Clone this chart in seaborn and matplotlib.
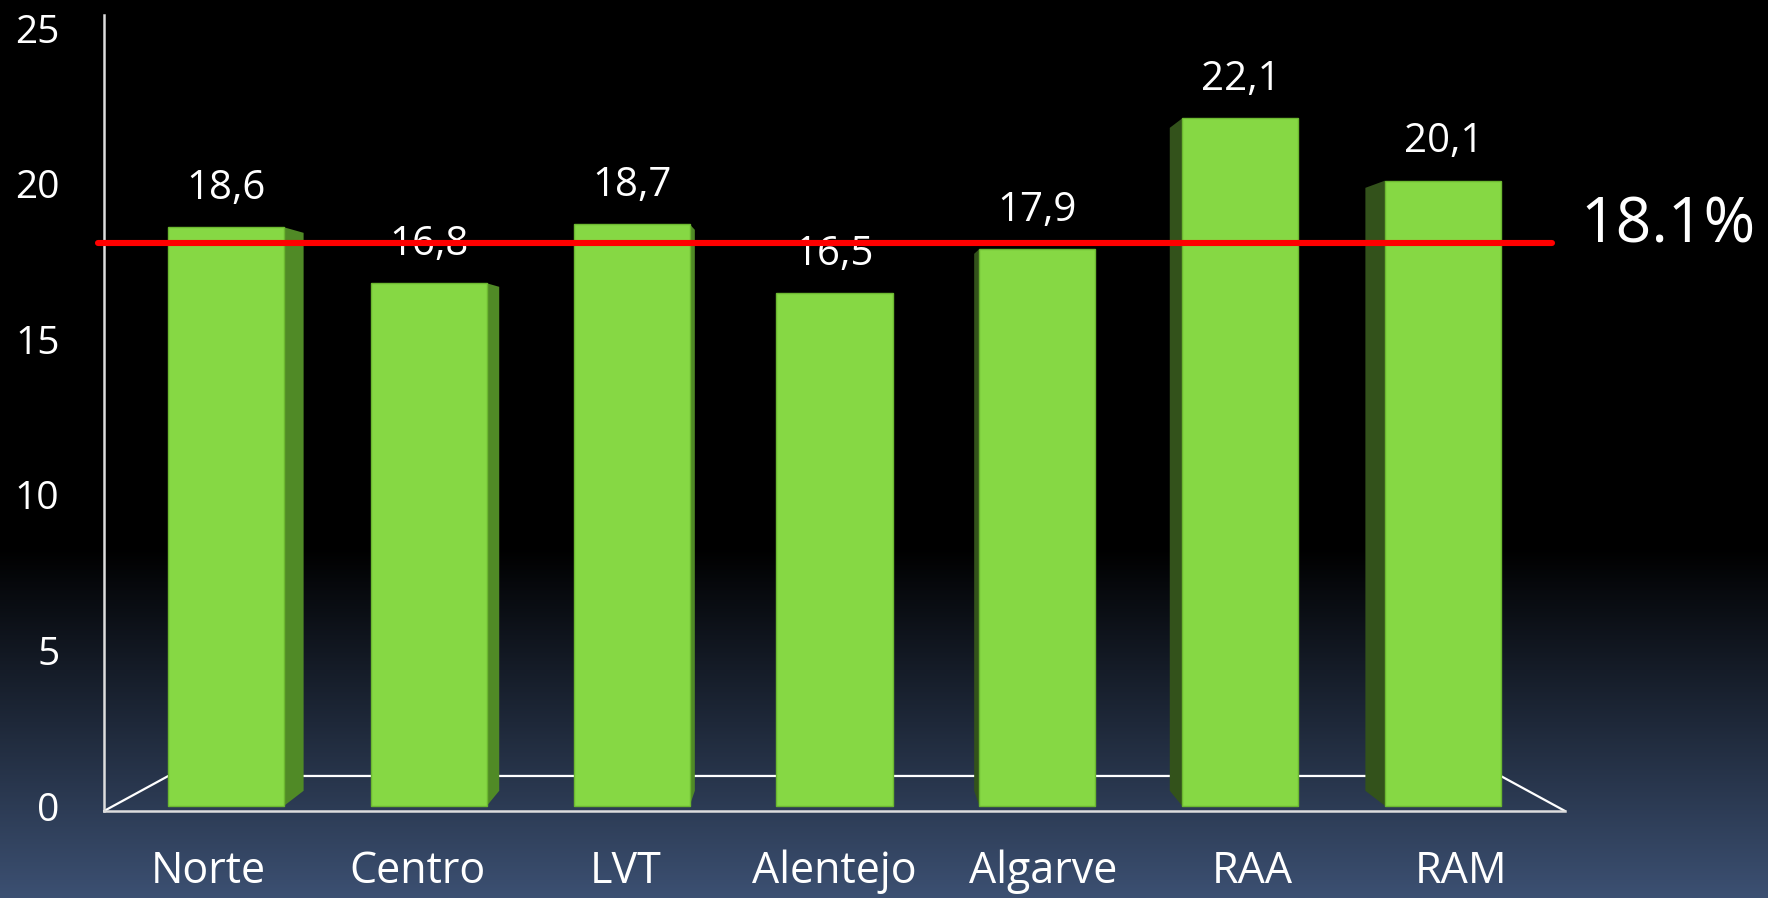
import numpy as np
import matplotlib
matplotlib.use("Agg")
import matplotlib.pyplot as plt
import seaborn as sns
from matplotlib.patches import Polygon

regions = ["Norte", "Centro", "LVT", "Alentejo", "Algarve", "RAA", "RAM"]
values = [18.6, 16.8, 18.7, 16.5, 17.9, 22.1, 20.1]
average = 18.1
yticks = [0, 5, 10, 15, 20, 25]

sns.set_theme(style="white")
plt.rcParams["font.family"] = ["Open Sans", "DejaVu Sans"]

W, H = 1768, 898
fig = plt.figure(figsize=(W / 100, H / 100), dpi=100, facecolor="black")

# background: black top fading to slate blue at the bottom
bg = fig.add_axes([0, 0, 1, 1], zorder=-1)
rows = np.linspace(0, 1, 400)
t = np.clip((rows - 0.61) / 0.39, 0, 1)
top = np.array([0, 0, 0]) / 255
bot = np.array([60, 80, 114]) / 255
grad = (top[None, :] * (1 - t[:, None]) + bot[None, :] * t[:, None])[:, None, :]
bg.imshow(grad, aspect="auto", extent=[0, 1, 0, 1], origin="upper")
bg.axis("off")

# main axes in pixel geometry of the reference
left, right, top_px, bottom_px = 104, 1565, 15, 811
ax = fig.add_axes([left / W, 1 - bottom_px / H, (right - left) / W, (bottom_px - top_px) / H])
ax.set_facecolor("none")

bar_w = 0.572
front = "#86d844"
sns.barplot(x=regions, y=values, color=front, width=bar_w, saturation=1,
            edgecolor="#6cb830", linewidth=1, ax=ax, zorder=3)

ax.set_xlim(-0.6, 6.6)
ax.set_ylim(-0.16, 25.42)

# side faces of the pseudo-3D bars (perspective towards the centre)
vp_x, vp_y, k = 3.0, 13.6, 0.036
for i, v in enumerate(values):
    if i < vp_x:
        xe, col = i + bar_w / 2, "#508a26"
    elif i > vp_x:
        xe, col = i - bar_w / 2, "#33521b"
    else:
        continue
    xb = xe + (vp_x - xe) * k
    poly = Polygon([(xe, 0), (xe, v), (xb, v + (vp_y - v) * k), (xb, vp_y * k)],
                   closed=True, facecolor=col, edgecolor="none", zorder=2)
    ax.add_patch(poly)

# value labels
ax.bar_label(ax.containers[0], labels=[f"{v:.1f}".replace(".", ",") for v in values],
             padding=13, color="white", fontsize=29, zorder=4)

# average line
ax.axhline(average, xmin=-0.004, xmax=0.991, color="#ff0000", lw=4.4,
           clip_on=False, zorder=6)
ax.annotate(f"{average}%", xy=(1, average), xycoords=("axes fraction", "data"),
            xytext=(11, 12), textcoords="offset points", color="white",
            fontsize=45, va="center", ha="left", annotation_clip=False)

# floor of the 3D box
ax.plot([0, 0.044, 0.956, 1], [0, 0.044, 0.044, 0], transform=ax.transAxes,
        color="white", lw=1.6, zorder=1, clip_on=False)

for s in ["top", "right"]:
    ax.spines[s].set_visible(False)
ax.spines["left"].set_color("#dddddd")
ax.spines["left"].set_linewidth(1.8)
ax.spines["bottom"].set_color("#dddddd")
ax.spines["bottom"].set_linewidth(1.8)

ax.set_yticks(yticks)
ax.set_yticklabels([str(v) for v in yticks])
ax.tick_params(axis="y", colors="white", labelsize=28, length=0, pad=32)
ax.tick_params(axis="x", length=0, labelbottom=False)
ax.set_xlabel("")
ax.set_ylabel("")
ax.grid(False)

# category labels sit on the (wider) front plane of the floor
ax_lab = ax.twiny()
ax_lab.set_xlim(-0.5, 6.5)
ax_lab.set_xticks(range(len(regions)))
ax_lab.set_xticklabels(regions)
ax_lab.xaxis.set_ticks_position("bottom")
ax_lab.xaxis.set_label_position("bottom")
ax_lab.tick_params(axis="x", colors="white", labelsize=31, length=0, pad=28)
for s in ax_lab.spines.values():
    s.set_visible(False)

fig.savefig("out.png", dpi=100, facecolor="black")
